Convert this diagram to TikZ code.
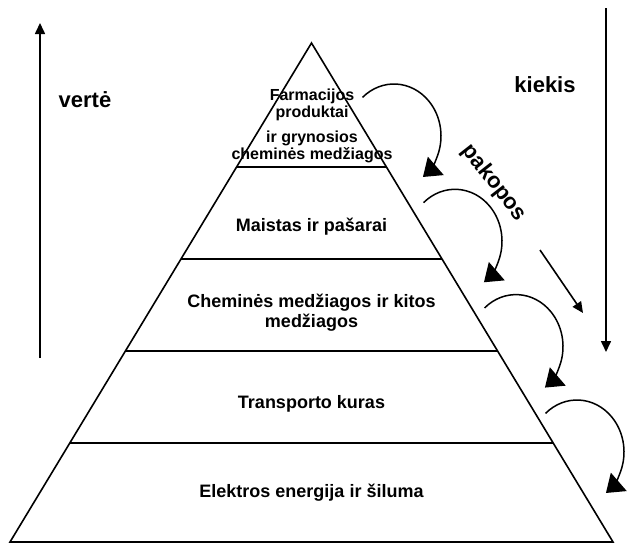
\documentclass[tikz,border=0pt]{standalone}
\usepackage{fontspec}
\setmainfont{Liberation Sans}
\usetikzlibrary{arrows.meta,calc}
\begin{document}
\begin{tikzpicture}[x=1pt,y=-1pt,
  edge/.style={line width=1.6pt},
  axis/.style={line width=1.6pt,-{Triangle[length=11pt,width=10pt]}},
  stage/.style={line width=1.5pt,-{Triangle[length=17pt,width=24pt]}},
  lbl/.style={font=\fontsize{18}{20}\selectfont\bfseries,align=center,inner sep=0pt},
  toplbl/.style={font=\fontsize{16}{17}\selectfont\bfseries,align=center,inner sep=0pt},
  side/.style={font=\fontsize{22}{26}\selectfont\bfseries,inner sep=0pt}]
\useasboundingbox[fill=white] (0,0) rectangle (631,549);
% pyramid
\coordinate (apex) at (311.5,43);
\coordinate (bl) at (10,542);
\coordinate (br) at (613,542);
\draw[edge,line join=miter] (apex) -- (bl) -- (br) -- cycle;
\foreach \t/\n in {0.2485/a,0.4329/b,0.6172/c,0.8016/d}{
  \coordinate (l\n) at ($(apex)!\t!(bl)$);
  \coordinate (r\n) at ($(apex)!\t!(br)$);
  \draw[edge] (l\n) -- (r\n);
}
% labels
\node[toplbl] (farm) at (312,105) {Farmacijos\\produktai};
\node[toplbl] (gryn) at (312,146.5) {ir grynosios\\cheminės medžiagos};
\node[lbl] (food) at (311.5,227) {Maistas ir pašarai};
\node[lbl] (chem) at (311.5,313) {Cheminės medžiagos ir kitos\\medžiagos};
\node[lbl] (fuel) at (311.5,404) {Transporto kuras};
\node[lbl] (elec) at (311.5,493) {Elektros energija ir šiluma};
\node[side] (verte) at (85,100) {vertė};
\node[side] (kiekis) at (545,85) {kiekis};
\node[side,rotate=-52] (pakopos) at (494,183) {pakopos};
% axes
\coordinate (vb) at (40,358);
\coordinate (vt) at (40,23);
\draw[axis] (vb) -- (vt);
\coordinate (kt) at (606,8);
\coordinate (kb) at (606,352);
\draw[axis] (kt) -- (kb);
\coordinate (ds) at (540,250);
\coordinate (de) at (583,313);
\draw[axis] (ds) -- (de);
% stage arrows
\foreach \cx/\cy/\k in {394/136/1,455/241.3/2,516/346.6/3,577/452/4}{
  \coordinate (c\k) at (\cx,\cy);
  \draw[stage] ($(c\k)+(228:47 and 52)$) arc[start angle=228,end angle=412,x radius=47,y radius=52];
}
\end{tikzpicture}
\end{document}
